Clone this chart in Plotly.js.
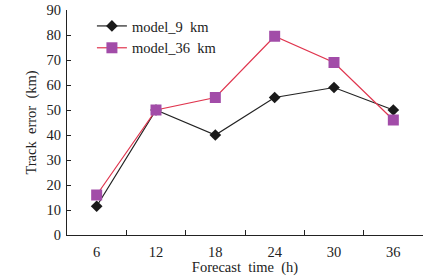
<!DOCTYPE html>
<html><head><meta charset="utf-8">
<script src="https://cdn.plot.ly/plotly-3.0.1.min.js"></script>
<style>html,body{margin:0;padding:0;background:#fff;}#chart{width:442px;height:276px;}</style>
</head><body><div id="chart"></div>
<script>
const hours = ['6', '12', '18', '24', '30', '36'];
const model9 = [11.5, 50, 40, 55, 59, 50];
const model36 = [16, 50, 55, 79.5, 69, 46];
const yTicks = [0, 10, 20, 30, 40, 50, 60, 70, 80, 90];

const font = {family: 'Liberation Serif, Times New Roman, serif', size: 14.5, color: '#222'};
const traces = [
  {x: hours, y: model9, name: 'model_9\u00a0\u00a0km', mode: 'lines+markers', type: 'scatter',
   line: {color: '#222222', width: 1.2},
   marker: {symbol: 'diamond', size: 9, color: '#1a1a1a'}},
  {x: hours, y: model36, name: 'model_36\u00a0\u00a0km', mode: 'lines+markers', type: 'scatter',
   line: {color: '#e0354e', width: 1.2},
   marker: {symbol: 'square', size: 11, color: '#a24ca8'}}
];
const layout = {
  width: 442, height: 276,
  margin: {l: 67, r: 19, t: 10, b: 41},
  paper_bgcolor: '#fff', plot_bgcolor: '#fff',
  font: font,
  showlegend: true,
  legend: {x: 0.07, y: 1.0, xanchor: 'left', yanchor: 'top', bgcolor: 'rgba(0,0,0,0)',
           font: {family: font.family, size: 14.5, color: '#222'}, tracegroupgap: 0, itemwidth: 30},
  xaxis: {type: 'category', range: [-0.5, 5.5], tickson: 'boundaries', ticks: 'inside', ticklen: 5,
          tickcolor: '#222', showline: true, linecolor: '#222', linewidth: 1.2, showgrid: false, zeroline: false,
          tickfont: font, ticklabelstandoff: 3,
          title: {text: 'Forecast\u00a0 time\u00a0 (h)', font: font, standoff: 2}},
  yaxis: {range: [0, 90], tickvals: yTicks, ticks: 'inside', ticklen: 4, tickcolor: '#222',
          showline: true, linecolor: '#222', linewidth: 1.2, showgrid: false, zeroline: false,
          tickfont: font, ticklabelstandoff: 2,
          title: {text: 'Track\u00a0 error\u00a0 (km)', font: font, standoff: 6}}
};
Plotly.newPlot('chart', traces, layout, {displayModeBar: false, staticPlot: true});
</script></body></html>
